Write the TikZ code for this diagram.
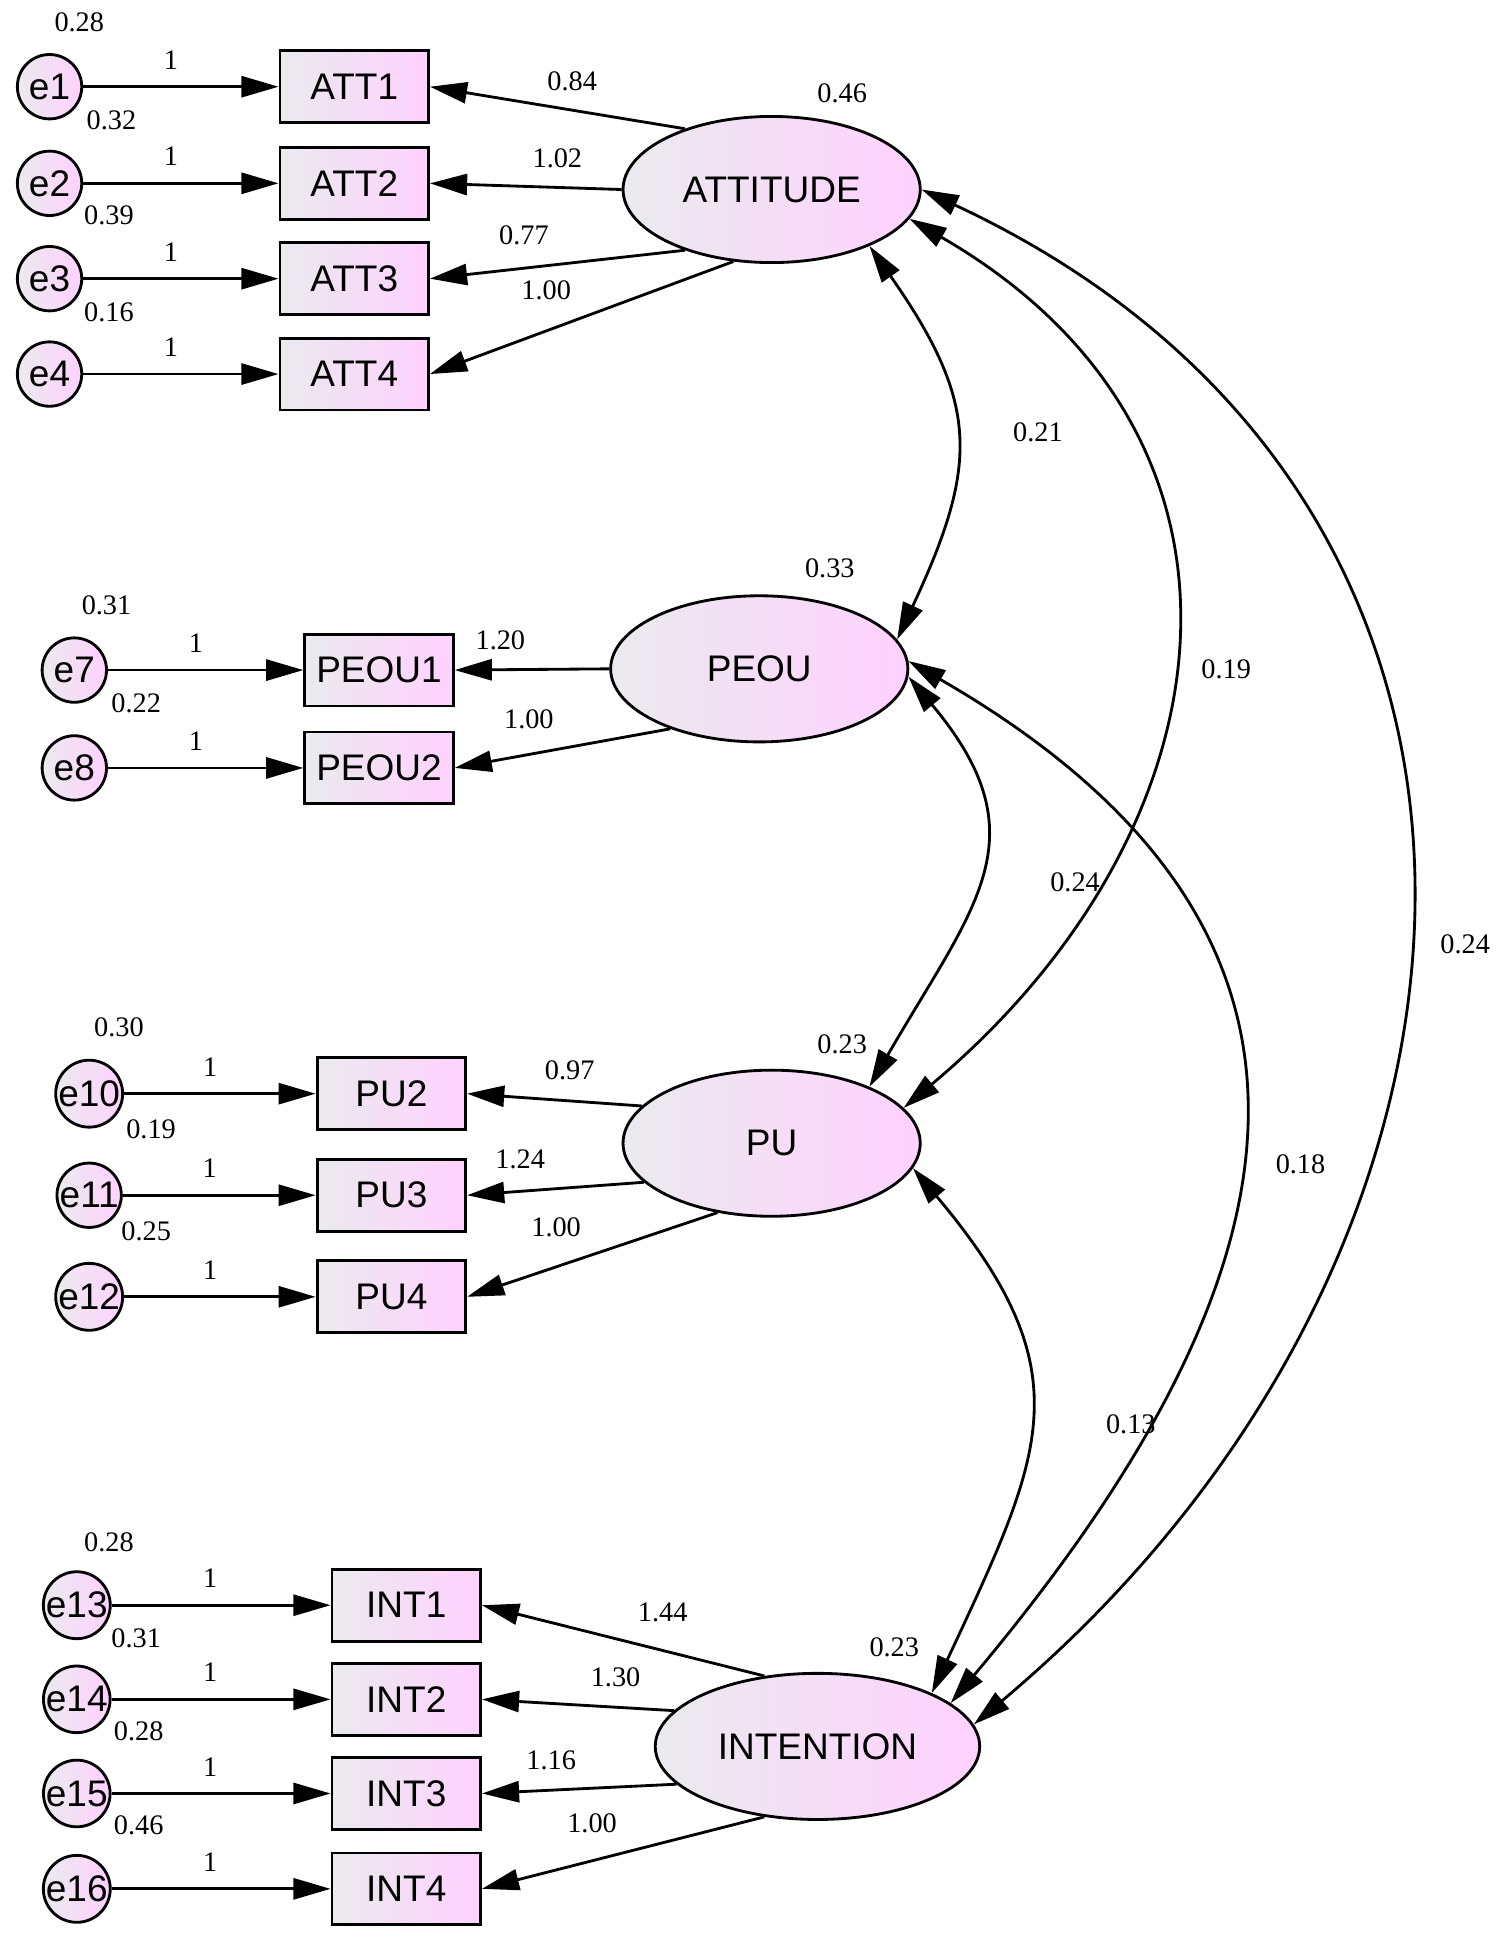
\documentclass[tikz,border=0pt]{standalone}
\usepackage{fontspec}
\setmainfont{Liberation Serif}
\newfontfamily\amossans{Liberation Sans}
\usetikzlibrary{arrows.meta,shapes.geometric,positioning}

\begin{document}
\begin{tikzpicture}[
    x=0.02cm, y=-0.02cm,
    ind/.style={rectangle, draw=black, line width=1.3pt, minimum width=2.4cm, minimum height=1.16cm, inner sep=0pt, left color=blue!8!gray!15, right color=magenta!18, font=\amossans\fontsize{17}{17}\selectfont},
    err/.style={circle, draw=black, line width=1.3pt, minimum size=1.04cm, inner sep=0pt, left color=blue!8!gray!15, right color=magenta!18, font=\amossans\fontsize{17}{17}\selectfont},
    lat/.style={ellipse, draw=black, line width=1.3pt, minimum width=4.8cm, minimum height=2.36cm, inner sep=0pt, left color=blue!8!gray!15, right color=magenta!18, font=\amossans\fontsize{17}{17}\selectfont},
    arrow/.style={-{Triangle[length=6mm,width=3.4mm]}, line width=1.3pt},
    cov/.style={{Triangle[length=6mm,width=3.4mm]}-{Triangle[length=6mm,width=3.4mm]}, line width=1.3pt},
    num/.style={font=\fontsize{13}{13}\selectfont}
]
\useasboundingbox (0,0) rectangle (1220,1576);

% Latent factors
\node[lat] (att) at (623,153) {ATTITUDE};
\node[lat] (peou) at (613,540) {PEOU};
\node[lat] (pu) at (623,923) {PU};
\node[lat, minimum width=5.24cm] (int) at (660,1410) {INTENTION};

\node[num] at (680,75) {0.46};
\node[num] at (670,459) {0.33};
\node[num] at (680,843) {0.23};
\node[num] at (722,1330) {0.23};

% Indicators with error terms
\foreach \name/\err/\bx/\ex/\y/\v/\vx/\vy in {
    ATT1/e1/286/40/70/0.28/64/18,
    ATT2/e2/286/40/148/0.32/90/97,
    ATT3/e3/286/40/225/0.39/88/174,
    ATT4/e4/286/40/302/0.16/88/252,
    PEOU1/e7/306/60/541/0.31/86/489,
    PEOU2/e8/306/60/620/0.22/110/568,
    PU2/e10/316/72/883/0.30/96/829,
    PU3/e11/316/72/965/0.19/122/912,
    PU4/e12/316/72/1047/0.25/118/994,
    INT1/e13/328/62/1296/0.28/88/1245,
    INT2/e14/328/62/1372/0.31/110/1323,
    INT3/e15/328/62/1448/0.28/112/1398,
    INT4/e16/328/62/1525/0.46/112/1474} {
    \node[ind] (\name) at (\bx,\y) {\name};
    \node[err] (\err) at (\ex,\y) {\err};
    \node[num] at (\vx,\vy) {\v};
    \draw[arrow] (\err) -- node[num, above=4pt, pos=0.45] {1} (\name.west);
}

% Loadings
\foreach \from/\ang/\to/\val/\lx/\ly in {
    att/145/ATT1/0.84/462/66,
    att/180/ATT2/1.02/450/128,
    att/215/ATT3/0.77/423/190,
    att/242/ATT4/1.00/441/234,
    peou/180/PEOU1/1.20/404/517,
    peou/214/PEOU2/1.00/427/581,
    pu/164/PU2/0.97/460/864,
    pu/197/PU3/1.24/420/936,
    pu/232/PU4/1.00/449/991,
    int/127/INT1/1.44/535/1302,
    int/166/INT2/1.30/497/1354,
    int/195/INT3/1.16/445/1421,
    int/233/INT4/1.00/478/1472} {
    \draw[arrow] (\from.\ang) -- (\to.east);
    \node[num] at (\lx,\ly) {\val};
}

% Covariances
\draw[cov] (att.-30) to[out=-55, in=65, looseness=1.25] (peou.12);
\draw[cov] (att.-12) to[out=-30, in=40, looseness=1.25] (pu.15);
\draw[cov] (att.0) to[out=-25, in=40, looseness=1.22] (int.8);
\draw[cov] (peou.-3) to[out=-50, in=60, looseness=1.3] (pu.30);
\draw[cov] (peou.3) to[out=-30, in=50, looseness=1.35] (int.18);
\draw[cov] (pu.-10) to[out=-50, in=65, looseness=1.3] (int.25);

\node[num] at (838,349) {0.21};
\node[num] at (990,540) {0.19};
\node[num] at (1183,762) {0.24};
\node[num] at (868,712) {0.24};
\node[num] at (1050,940) {0.18};
\node[num] at (913,1150) {0.13};
\end{tikzpicture}
\end{document}
